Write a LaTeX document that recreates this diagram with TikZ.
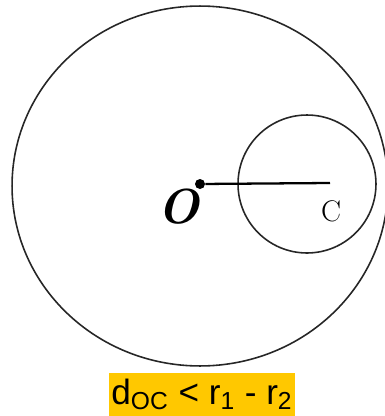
\documentclass[tikz,border=0pt]{standalone}
\usepackage{fontspec}
\newfontfamily\captionfont{Liberation Sans}
\usetikzlibrary{positioning, calc}
\definecolor{CapYellow}{RGB}{255, 200, 0}

\begin{document}
\begin{tikzpicture}[
    x=0.02cm, y=-0.02cm,
    ring/.style={draw=black!85, line width=0.9pt},
    dot/.style={circle, fill=black, inner sep=0pt, minimum size=0.2cm},
    seg/.style={draw=black, line width=1.3pt},
    caption/.style={fill=CapYellow, font=\captionfont\fontsize{20}{22}\selectfont, inner xsep=1pt, inner ysep=0pt, minimum width=3.72cm, minimum height=0.86cm}
  ]
    \useasboundingbox (0,0) rectangle (385,416);

    % Circles
    \draw[ring] (200,186) ellipse [x radius=3.76cm, y radius=3.6cm];
    \draw[ring] (307,184) circle [radius=1.38cm];

    % Centres and distance
    \node[dot] (O) at (200,184) {};
    \coordinate (C) at (330,183);
    \draw[seg] (O) -- (C);

    % Labels
    \node[font=\fontsize{28}{28}\selectfont\bfseries\itshape] (lblO) at (179,207) {O};
    \node[font=\fontsize{17}{17}\selectfont] (lblC) at (331,211) {C};

    % Caption
    \node[caption] (cap) at (202,394.5) {d\textsubscript{OC} < r\textsubscript{1} - r\textsubscript{2}};
  \end{tikzpicture}
\end{document}
